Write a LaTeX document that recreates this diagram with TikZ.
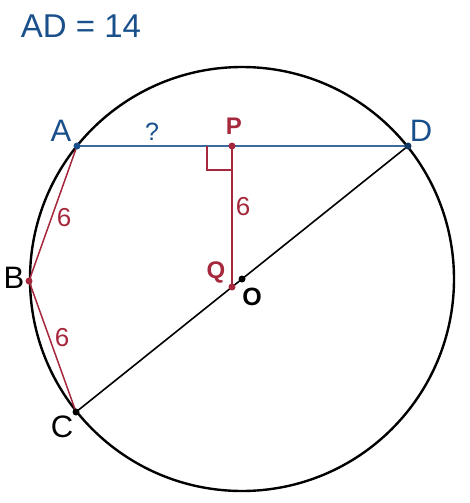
\documentclass[tikz,border=0pt]{standalone}
\usepackage{fontspec}
\setmainfont{Liberation Sans}
\usetikzlibrary{calc,positioning}
\definecolor{chordblue}{RGB}{25,80,140}
\definecolor{segred}{RGB}{165,40,60}

\begin{document}
\begin{tikzpicture}[x=1pt, y=-1pt, bluetext/.style={text=chordblue, font=\fontsize{31}{36}\selectfont}, redtext/.style={text=segred, font=\fontsize{26}{30}\selectfont}, dot/.style={circle, inner sep=0pt, minimum size=7pt}]
    % Define styles for lines and labels
    \tikzstyle{rim} = [draw=black, line width=2.4pt]
    \tikzstyle{chord} = [draw=chordblue!85, line width=1.6pt]
    \tikzstyle{redseg} = [draw=segred, line width=1.5pt]
    \tikzstyle{blacklabel} = [text=black, font=\fontsize{31}{36}\selectfont]

    \useasboundingbox (0,0) rectangle (470,503);

    % Points placement
    \coordinate (O) at (242,279);
    \coordinate (A) at (77,146);
    \coordinate (D) at (408,146);
    \coordinate (P) at (232,146);
    \coordinate (Q) at (232,287);
    \coordinate (B) at (29,281);
    \coordinate (C) at (76,412);

    % Draw circle and segments
    \draw[rim] (O) circle [radius=212pt];
    \draw[black, line width=1.6pt] (D) -- (C);
    \draw[chord] (A) -- (D);
    \draw[redseg] (P) -- (Q);
    \draw[redseg] (A) -- (B) -- (C);
    \draw[segred, line width=1.2pt] ($(P)+(-25,0)$) -- ++(0,24) -- ++(25,0);

    % Dots
    \node[dot, fill=chordblue] (dotA) at (A) {};
    \node[dot, fill=chordblue!70!black] (dotD) at (D) {};
    \node[dot, fill=segred] (dotP) at (P) {};
    \node[dot, fill=segred] (dotQ) at (Q) {};
    \node[dot, fill=segred] (dotB) at (B) {};
    \node[dot, fill=black] (dotO) at (O) {};
    \node[dot, fill=black] (dotC) at (C) {};

    % Labels
    \node[bluetext, font=\fontsize{33}{38}\selectfont] (given) at (81,26) {AD = 14};
    \node[bluetext] (labA) at (61,131) {A};
    \node[bluetext] (labD) at (421,131) {D};
    \node[text=chordblue, font=\fontsize{25}{30}\selectfont] (labq) at (152,132) {?};
    \node[redtext, font=\fontsize{24}{28}\selectfont\bfseries] (labP) at (234,126) {P};
    \node[redtext, font=\fontsize{24}{28}\selectfont\bfseries] (labQ) at (216,272) {Q};
    \node[blacklabel, font=\fontsize{25}{30}\selectfont\bfseries] (labO) at (252,297) {O};
    \node[blacklabel] (labB) at (14,278) {B};
    \node[blacklabel] (labC) at (62,427) {C};
    \node[redtext] (labPQ) at (243,207) {6};
    \node[redtext] (labAB) at (64,218) {6};
    \node[redtext] (labBC) at (62,338) {6};
\end{tikzpicture}
\end{document}
